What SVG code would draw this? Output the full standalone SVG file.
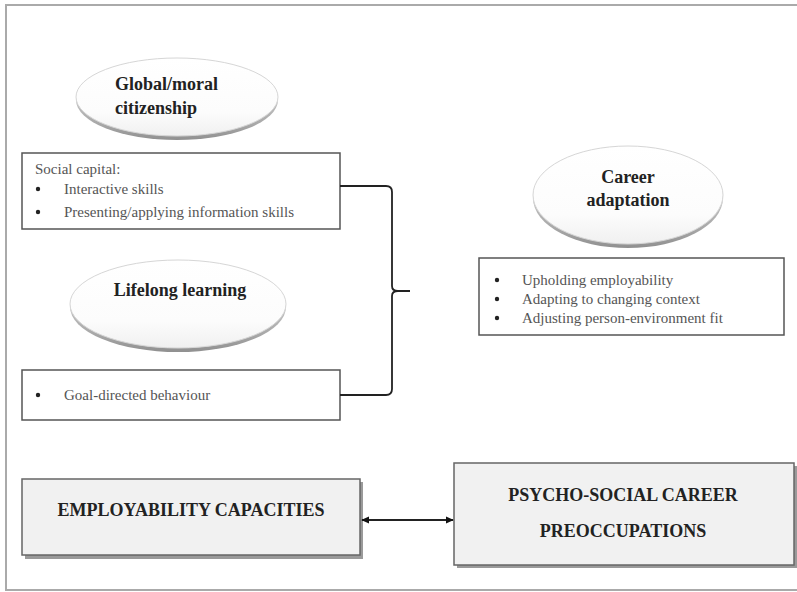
<svg xmlns="http://www.w3.org/2000/svg" width="797" height="592" viewBox="0 0 797 592">
<defs>
<linearGradient id="disc" x1="0" y1="0" x2="0" y2="1">
<stop offset="0" stop-color="#eeeeee"/>
<stop offset="0.8" stop-color="#a8a8a8"/>
<stop offset="1" stop-color="#909090"/>
</linearGradient>
<linearGradient id="face" x1="0" y1="0" x2="0" y2="1">
<stop offset="0" stop-color="#ffffff"/>
<stop offset="0.7" stop-color="#fcfcfc"/>
<stop offset="1" stop-color="#f0f0f0"/>
</linearGradient>
<marker id="ah" viewBox="0 0 10 10" refX="9" refY="5" markerWidth="8" markerHeight="8" orient="auto-start-reverse" markerUnits="userSpaceOnUse">
<path d="M0,0.5 L10,5 L0,9.5 Z" fill="#111"/>
</marker>
</defs>
<style>
.frame{fill:#fff;stroke:#aaa;stroke-width:2}
.box{fill:#fff;stroke:#555;stroke-width:1.5}
.shbox{fill:#f1f1f1;stroke:#666;stroke-width:1.5}
.sh{fill:#9a9a9a}
.ell{fill:url(#face);stroke:#d6d6d6;stroke-width:1}
.ellsh{fill:url(#disc)}
.et{font-family:"Liberation Serif","Times New Roman",serif;font-weight:bold;font-size:18px;fill:#222}
.bt{font-family:"Liberation Serif","Times New Roman",serif;font-size:15px;fill:#555}
.bb{font-family:"Liberation Serif","Times New Roman",serif;font-weight:bold;font-size:18px;fill:#222}
.conn{fill:none;stroke:#222;stroke-width:1.8}
</style>
<rect class="frame" x="6" y="5" width="800" height="585"/>

<g id="global-moral">
<ellipse class="ellsh" cx="177" cy="100" rx="101" ry="40"/>
<ellipse class="ell" cx="177" cy="97" rx="101" ry="39"/>
<text class="et" x="115" y="90">Global/moral</text>
<text class="et" x="115" y="114">citizenship</text>
</g>

<g id="social-capital">
<rect class="box" x="22" y="153" width="318" height="76"/>
<text class="bt" x="35" y="174">Social capital:</text>
<circle cx="38" cy="189" r="2.2" fill="#222"/>
<text class="bt" x="64" y="194">Interactive skills</text>
<circle cx="38" cy="212" r="2.2" fill="#222"/>
<text class="bt" x="64" y="217">Presenting/applying information skills</text>
</g>

<g id="lifelong">
<ellipse class="ellsh" cx="178" cy="307" rx="108" ry="45"/>
<ellipse class="ell" cx="178" cy="304" rx="108" ry="44"/>
<text class="et" x="180" y="296" text-anchor="middle">Lifelong learning</text>
</g>

<g id="goal">
<rect class="box" x="22" y="370" width="318" height="50"/>
<circle cx="38" cy="395" r="2.2" fill="#222"/>
<text class="bt" x="64" y="400">Goal-directed behaviour</text>
</g>

<g id="career-adaptation">
<ellipse class="ellsh" cx="628" cy="198" rx="95" ry="50"/>
<ellipse class="ell" cx="628" cy="195" rx="95" ry="49"/>
<text class="et" x="628" y="183" text-anchor="middle">Career</text>
<text class="et" x="628" y="206" text-anchor="middle">adaptation</text>
</g>

<g id="career-box">
<rect class="box" x="479" y="258" width="305" height="77"/>
<circle cx="497" cy="280" r="2.2" fill="#222"/>
<text class="bt" x="522" y="285">Upholding employability</text>
<circle cx="497" cy="299" r="2.2" fill="#222"/>
<text class="bt" x="522" y="304">Adapting to changing context</text>
<circle cx="497" cy="318" r="2.2" fill="#222"/>
<text class="bt" x="522" y="323">Adjusting person-environment fit</text>
</g>

<g id="employability">
<rect class="sh" x="25" y="482" width="338" height="77"/>
<rect class="shbox" x="22" y="479" width="338" height="76"/>
<text class="bb" x="191" y="516" text-anchor="middle">EMPLOYABILITY CAPACITIES</text>
</g>

<g id="psychosocial">
<rect class="sh" x="457" y="466" width="340" height="102"/>
<rect class="shbox" x="454" y="463" width="340" height="102"/>
<text class="bb" x="623" y="501" text-anchor="middle">PSYCHO-SOCIAL CAREER</text>
<text class="bb" x="623" y="537" text-anchor="middle">PREOCCUPATIONS</text>
</g>

<g id="connectors">
<path class="conn" d="M340,186 H386 Q392,186 392,192 V286 Q392,291 398,291 H410 M398,291 Q392,291 392,296 V389 Q392,395 386,395 H340"/>
<line class="conn" x1="362" y1="520" x2="453" y2="520" marker-start="url(#ah)" marker-end="url(#ah)"/>
</g>
</svg>
